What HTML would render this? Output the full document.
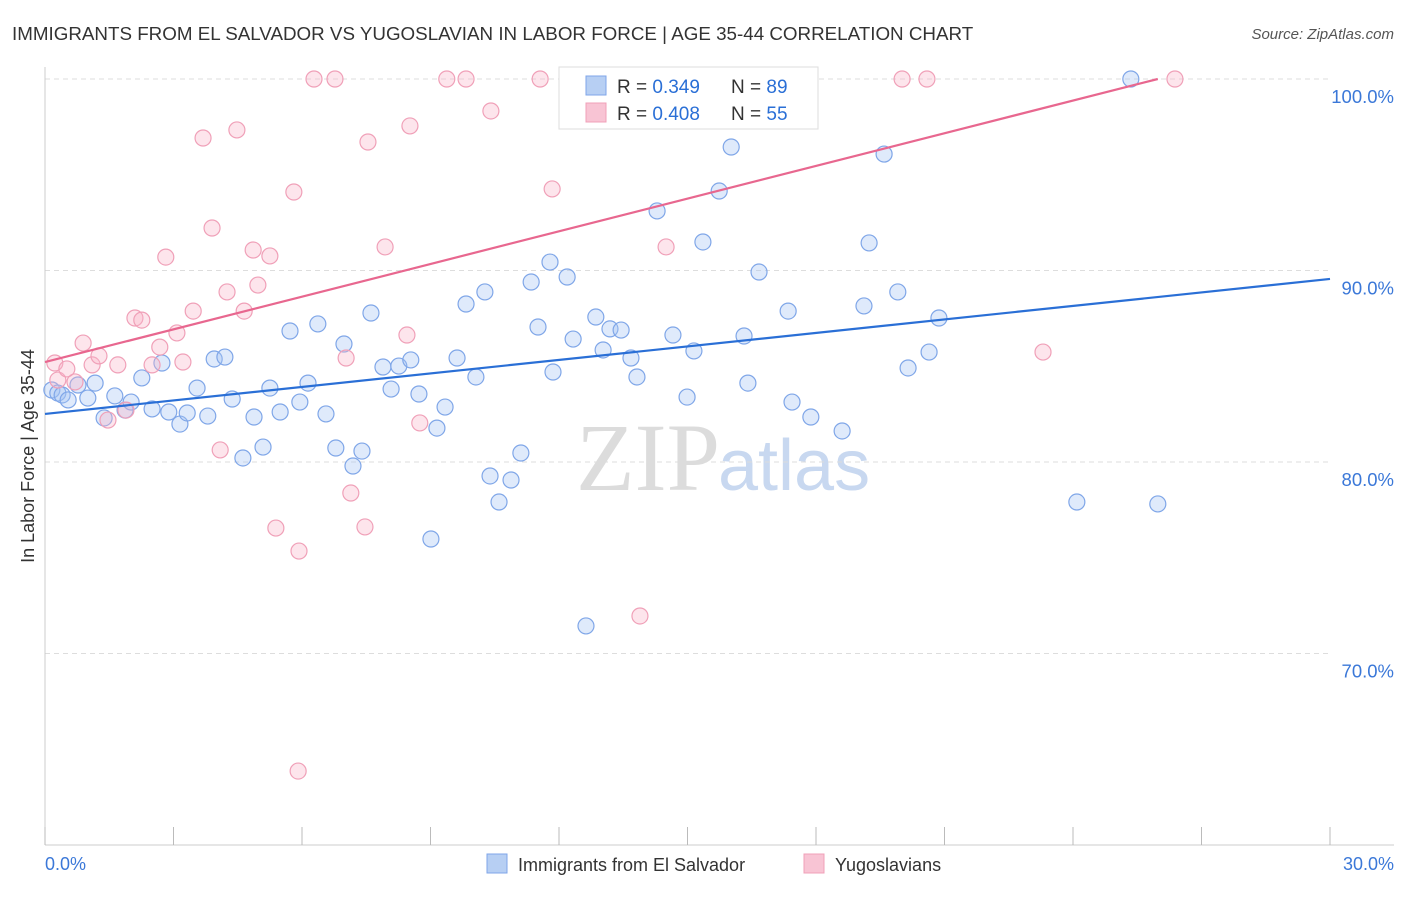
<!DOCTYPE html>
<html><head><meta charset="utf-8"><style>
body{margin:0;background:#fff;font-family:"Liberation Sans",sans-serif;}
</style></head><body>
<svg id="chart" width="1406" height="892" xmlns="http://www.w3.org/2000/svg">
<text x="12" y="40" font-size="18.8" fill="#333">IMMIGRANTS FROM EL SALVADOR VS YUGOSLAVIAN IN LABOR FORCE | AGE 35-44 CORRELATION CHART</text>
<text x="1394" y="39" font-size="15" fill="#555" font-style="italic" text-anchor="end">Source: ZipAtlas.com</text>
<text x="720" y="490" font-size="96" fill="#dcdcdc" font-family="Liberation Serif,serif" text-anchor="end">ZIP</text>
<text x="718" y="490" font-size="72" fill="#c8d8f0">atlas</text>
<g id="grid"></g><g id="axes"></g><g id="pts"></g><g id="lines"></g>
<text transform="translate(34,456) rotate(-90)" font-size="18" fill="#333" text-anchor="middle">In Labor Force | Age 35-44</text>
<text x="45" y="870" font-size="18" fill="#3b78d8">0.0%</text>
<text x="1394" y="870" font-size="18" fill="#3b78d8" text-anchor="end">30.0%</text>
<g>
<rect x="559" y="67" width="259" height="62" fill="#fff" stroke="#ddd"/>
<rect x="586" y="76" width="20" height="19" fill="#b7cff3" stroke="#7fa6e8"/>
<rect x="586" y="103" width="20" height="19" fill="#f8c4d4" stroke="#f0a0b8"/>
<text x="617" y="93" font-size="19" fill="#333">R = <tspan fill="#2a6fd6">0.349</tspan></text>
<text x="731" y="93" font-size="19" fill="#333">N = <tspan fill="#2a6fd6">89</tspan></text>
<text x="617" y="120" font-size="19" fill="#333">R = <tspan fill="#2a6fd6">0.408</tspan></text>
<text x="731" y="120" font-size="19" fill="#333">N = <tspan fill="#2a6fd6">55</tspan></text>
</g>
<g>
<rect x="487" y="854" width="20" height="19" fill="#b7cff3" stroke="#7fa6e8"/>
<text x="518" y="871" font-size="18" fill="#333">Immigrants from El Salvador</text>
<rect x="804" y="854" width="20" height="19" fill="#f8c4d4" stroke="#f0a0b8"/>
<text x="835" y="871" font-size="18" fill="#333">Yugoslavians</text>
</g>
</svg>
<script>
const yTicks=[100,90,80,70];
const yTickLabels=["100.0%","90.0%","80.0%","70.0%"];
const blueX=[0.16,0.30,0.40,0.54,0.77,1.00,1.17,1.38,1.63,1.87,2.01,2.26,2.50,2.73,2.89,3.15,3.32,3.55,3.80,3.95,4.20,4.37,4.62,4.88,5.09,5.25,5.49,5.72,5.95,6.14,6.37,6.56,6.79,6.98,7.19,7.40,7.61,7.89,8.08,8.26,8.54,8.73,9.01,9.15,9.34,9.62,9.83,10.06,10.27,10.39,10.60,10.88,11.11,11.35,11.51,11.79,11.86,12.19,12.33,12.63,12.86,13.03,13.19,13.45,13.68,13.82,14.29,14.66,14.99,15.15,15.36,15.74,16.02,16.32,16.41,16.67,17.35,17.44,17.88,18.61,19.12,19.24,19.59,19.91,20.15,20.64,20.87,24.09,25.35,25.98];
const blueY=[83.76,83.60,83.50,83.24,84.02,83.34,84.12,82.30,83.45,82.71,83.13,84.39,82.77,85.17,82.61,81.98,82.56,83.86,82.40,85.38,85.48,83.29,80.21,82.35,80.78,83.86,82.61,86.84,83.13,84.12,87.21,82.51,80.73,86.16,79.79,80.57,87.78,84.96,83.81,85.01,85.33,83.55,75.98,81.77,82.87,85.43,88.25,84.44,88.88,79.27,77.91,79.06,80.47,89.40,87.05,90.44,84.70,89.66,86.42,71.44,87.57,85.85,86.95,86.89,85.43,84.44,93.11,86.63,83.39,85.80,91.49,94.15,96.45,86.58,84.12,89.92,87.88,83.13,82.35,81.62,88.15,91.44,96.08,88.88,84.91,85.74,87.52,77.91,100,77.81];
const pinkX=[0.23,0.30,0.51,0.70,0.89,1.10,1.26,1.47,1.70,1.89,2.10,2.26,2.50,2.68,2.82,3.08,3.22,3.46,3.69,3.90,4.09,4.25,4.48,4.65,4.86,4.97,5.25,5.39,5.81,5.93,5.91,6.28,6.77,7.03,7.14,7.47,7.54,7.94,8.45,8.52,8.75,9.38,9.83,10.41,11.56,11.84,12.63,13.47,13.89,14.50,15.45,20.01,20.59,23.30,26.38];
const pinkY=[85.17,84.28,84.86,84.18,86.21,85.07,85.54,82.19,85.07,82.71,87.52,87.41,85.07,86.00,90.70,86.74,85.22,87.88,96.92,92.22,80.63,88.88,97.34,87.88,91.07,89.24,90.76,76.55,94.10,75.35,63.86,100,100,85.43,78.38,76.61,96.71,91.23,86.63,97.55,82.04,100,100,98.33,100,94.26,100,100,71.96,91.23,100,100,100,85.74,100];
const blueTrend=[[0,82.51],[30,89.56]];
const pinkTrend=[[0,85.22],[25.98,100]];
const NS="http://www.w3.org/2000/svg";
const X=v=>45+v/30*1285;
const Y=v=>79+(100-v)*19.15;
function mk(tag,attrs,parent){const e=document.createElementNS(NS,tag);for(const k in attrs)e.setAttribute(k,attrs[k]);document.getElementById(parent).appendChild(e);return e;}
yTicks.forEach((t,i)=>{
  const l=mk('line',{x1:45,x2:1330,y1:Y(t),y2:Y(t),stroke:'#ddd','stroke-dasharray':'5,4'},'grid');
  
  
  const tx=mk('text',{x:1394,y:Y(t)+24,'font-size':18.5,fill:'#3b78d8','text-anchor':'end'},'grid');
  tx.textContent=yTickLabels[i];
  
  
});
const ax=mk('line',{x1:45,x2:45,y1:67,y2:845,stroke:'#ccc'},'axes');


const bx=mk('line',{x1:45,x2:1394,y1:845,y2:845,stroke:'#ccc'},'axes');


for(let k=0;k<=10;k++){
  const t=mk('line',{x1:X(k*3),x2:X(k*3),y1:827,y2:845,stroke:'#bbb'},'axes');
  
  
}
function pts(xs,ys,fill,stroke,name){
  xs.forEach((x,i)=>{
    const c=mk('circle',{cx:X(x),cy:Y(ys[i]),r:8,fill:fill,stroke:stroke,'stroke-width':1.2},'pts');
    
    
  });
}
pts(blueX,blueY,'rgba(164,194,244,0.35)','#7fa6e8','el-salvador-point');
pts(pinkX,pinkY,'rgba(248,180,200,0.35)','#f0a0b8','yugoslavian-point');
const bl=mk('line',{x1:X(blueTrend[0][0]),y1:Y(blueTrend[0][1]),x2:X(blueTrend[1][0]),y2:Y(blueTrend[1][1]),stroke:'#2a6fd6','stroke-width':2.2},'lines');


const pl=mk('line',{x1:X(pinkTrend[0][0]),y1:Y(pinkTrend[0][1]),x2:X(pinkTrend[1][0]),y2:Y(pinkTrend[1][1]),stroke:'#e8678f','stroke-width':2.2},'lines');


</script>
</body></html>
